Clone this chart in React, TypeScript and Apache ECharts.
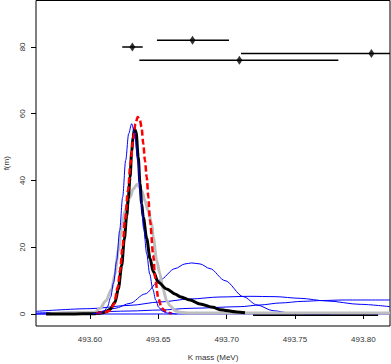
import React, { useEffect, useRef } from "react";
import * as echarts from "echarts";

// ---- axis ticks ----
const xTicks = [493.6, 493.65, 493.7, 493.75, 493.8];
const yTicks = [0, 20, 40, 60, 80];

// ---- measurements (centre, low, high, y position) ----
const measCenter = [493.631, 493.675, 493.7093, 493.8059];
const measLow = [493.6236, 493.649, 493.6361, 493.7105];
const measHigh = [493.6386, 493.7017, 493.7817, 493.8817];
const measY = [80, 82, 76, 78];

// ---- curves (x in MeV, y = f(m)) ----
const baseX = [493.5605, 493.8195];
const baseY = [0, 0];

const wide1X = [493.5605, 493.6, 493.6293, 493.6512, 493.6732, 493.6951, 493.7171, 493.7354, 493.7537, 493.7734, 493.7976, 493.8195];
const wide1Y = [0.8, 1.6, 2.6, 3.6, 4.5, 5.1, 5.3, 5.2, 4.7, 3.9, 2.9, 2.2];

const wide2X = [493.5605, 493.6, 493.6293, 493.6512, 493.6732, 493.7098, 493.7244, 493.739, 493.7559, 493.7705, 493.7851, 493.8195];
const wide2Y = [0.3, 0.6, 0.9, 1.2, 1.7, 2.2, 2.7, 3.3, 3.8, 4.05, 4.2, 4.2];

const midX = [493.5605, 493.578, 493.5927, 493.6086, 493.6183, 493.6293, 493.6402, 493.6512, 493.6622, 493.6695, 493.6744, 493.6805, 493.6878, 493.6988, 493.7122, 493.7222, 493.7339, 493.7464, 493.761, 493.7756];
const midY = [0.02, 0.08, 0.25, 0.8, 1.7, 3.2, 6.0, 10.2, 13.6, 15.0, 15.3, 15.0, 13.6, 10.0, 5.2, 2.7, 1.0, 0.3, 0.05, 0];

const greyX = [493.5705, 493.6037, 493.6073, 493.6117, 493.6159, 493.6183, 493.6207, 493.6232, 493.6256, 493.6293, 493.6317, 493.6346, 493.6378, 493.6402, 493.6424, 493.6452, 493.6463, 493.6488, 493.6512, 493.6534, 493.6561, 493.6585, 493.6622, 493.6659, 493.6732, 493.8195];
const greyY = [0.1, 0.5, 1.7, 4, 7.5, 12, 19, 26, 31, 35, 37.5, 38.9, 37, 34, 31, 27, 23, 16, 12, 7.5, 4, 2.5, 1, 0.5, 0.3, 0.3];

const blackX = [493.5678, 493.5854, 493.6037, 493.6086, 493.6117, 493.6146, 493.6183, 493.6207, 493.6232, 493.6251, 493.6269, 493.628, 493.6293, 493.6305, 493.6315, 493.6326, 493.6337, 493.6353, 493.6366, 493.6378, 493.639, 493.6415, 493.6439, 493.6463, 493.65, 493.6561, 493.6622, 493.6659, 493.6732, 493.6805, 493.69, 493.6951, 493.7074, 493.7134];
const blackY = [0, 0, 0.1, 0.3, 0.7, 1.4, 3.5, 7.5, 14.5, 22.5, 29.5, 34.5, 41, 48.5, 53, 55.5, 54.5, 47, 39, 33, 29, 22.6, 16.7, 12.7, 9.5, 7.5, 6.0, 5.2, 4.2, 3.0, 2.0, 1.3, 0.6, 0.4];

const blackTailX = [493.7193, 493.8108];
const blackTailY = [-0.35, -0.35];

const redX = [493.6044, 493.6102, 493.6146, 493.6176, 493.6203, 493.622, 493.6238, 493.6256, 493.6278, 493.6296, 493.6315, 493.6333, 493.6349, 493.6366, 493.6377, 493.639, 493.6402, 493.6415, 493.6427, 493.6439, 493.6463, 493.6476, 493.65, 493.6525, 493.6561, 493.66];
const redY = [0.2, 0.5, 1.0, 3, 8, 13, 20, 28, 37, 45, 52, 57, 59, 58, 56, 51, 46, 41, 35, 28, 17.6, 11, 4.7, 1.7, 0.5, 0.1];

const narrowX = [493.6012, 493.6078, 493.6107, 493.6129, 493.6151, 493.6173, 493.6195, 493.6217, 493.6239, 493.6261, 493.6283, 493.6305, 493.6327, 493.6349, 493.6371, 493.6393, 493.6415, 493.6437, 493.6459, 493.6481, 493.6503, 493.6532, 493.6568, 493.6634];
const narrowY = [0, 0.3, 1, 2.3, 5, 9.5, 16, 25, 35, 46, 54, 57, 54, 46, 35, 25.5, 18, 12, 7.5, 4.2, 2, 0.8, 0.3, 0];

const zip = (xs: number[], ys: number[]) => xs.map((x, i) => [x, ys[i]]);

const BLUE = "#0000ff";

export default function App() {
  const ref = useRef<HTMLDivElement>(null);
  useEffect(() => {
    if (!ref.current) return;
    const chart = echarts.init(ref.current, undefined, { renderer: "svg" });
    const curve = (name: string, xs: number[], ys: number[], color: string, width: number, type: any = "solid") => ({
      name,
      type: "line",
      data: zip(xs, ys),
      showSymbol: false,
      smooth: 0.3,
      smoothMonotone: "x",
      lineStyle: { color, width, type },
      silent: true,
    });
    chart.setOption({
      animation: false,
      textStyle: { fontFamily: "Liberation Sans, Arial, sans-serif" },
      grid: {
        left: 36,
        right: 1,
        top: 0.5,
        bottom: 38,
        show: true,
        outerBoundsMode: "none",
        borderColor: "#000",
        borderWidth: 1,
      },
      xAxis: {
        type: "value",
        min: 493.5605,
        max: 493.8195,
        name: "K mass (MeV)",
        nameLocation: "middle",
        nameGap: 27,
        nameTextStyle: { fontSize: 8, color: "#333" },
        axisLine: { show: false },
        splitLine: { show: false },
        axisTick: { show: true, length: 5, customValues: xTicks, lineStyle: { color: "#000" } },
        axisLabel: { customValues: xTicks, fontSize: 8, color: "#333", margin: 9, formatter: (v: number) => v.toFixed(2) },
      },
      yAxis: {
        type: "value",
        min: -3.59,
        max: 93.9,
        name: "f(m)",
        nameLocation: "middle",
        nameGap: 25.5,
        nameRotate: 90,
        nameTextStyle: { fontSize: 8, color: "#333" },
        axisLine: { show: false },
        splitLine: { show: false },
        axisTick: { show: true, length: 5, customValues: yTicks, lineStyle: { color: "#000" } },
        axisLabel: { customValues: yTicks, fontSize: 8, color: "#333", rotate: 90, margin: 10, formatter: (v: number) => String(Math.round(v)) },
      },
      series: [
        curve("baseline", baseX, baseY, BLUE, 1),
        curve("wide1", wide1X, wide1Y, BLUE, 1),
        curve("wide2", wide2X, wide2Y, BLUE, 1),
        curve("mid", midX, midY, BLUE, 1),
        curve("grey", greyX, greyY, "#bebebe", 3),
        curve("black", blackX, blackY, "#000", 3),
        curve("blackTail", blackTailX, blackTailY, "#000", 1.5),
        curve("red", redX, redY, "#ff0000", 2.5, [6, 3]),
        curve("narrow", narrowX, narrowY, BLUE, 1),
        {
          name: "errbars",
          type: "custom",
          clip: true,
          silent: true,
          data: measCenter.map((c, i) => [c, measLow[i], measHigh[i], measY[i]]),
          encode: { x: [0, 1, 2], y: 3 },
          renderItem: (params: any, api: any) => {
            const a = api.coord([api.value(1), api.value(3)]);
            const b = api.coord([api.value(2), api.value(3)]);
            return {
              type: "line",
              shape: { x1: a[0], y1: a[1], x2: b[0], y2: b[1] },
              style: { stroke: "#000", lineWidth: 1.5 },
            };
          },
        },
        {
          name: "points",
          type: "scatter",
          silent: true,
          symbol: "diamond",
          symbolSize: [6, 9],
          itemStyle: { color: "#000" },
          data: zip(measCenter, measY),
        },
      ],
    });
    return () => chart.dispose();
  }, []);
  return <div ref={ref} style={{ position: "fixed", left: 0, top: 0, width: 391, height: 364, background: "#fff" }} />;
}
